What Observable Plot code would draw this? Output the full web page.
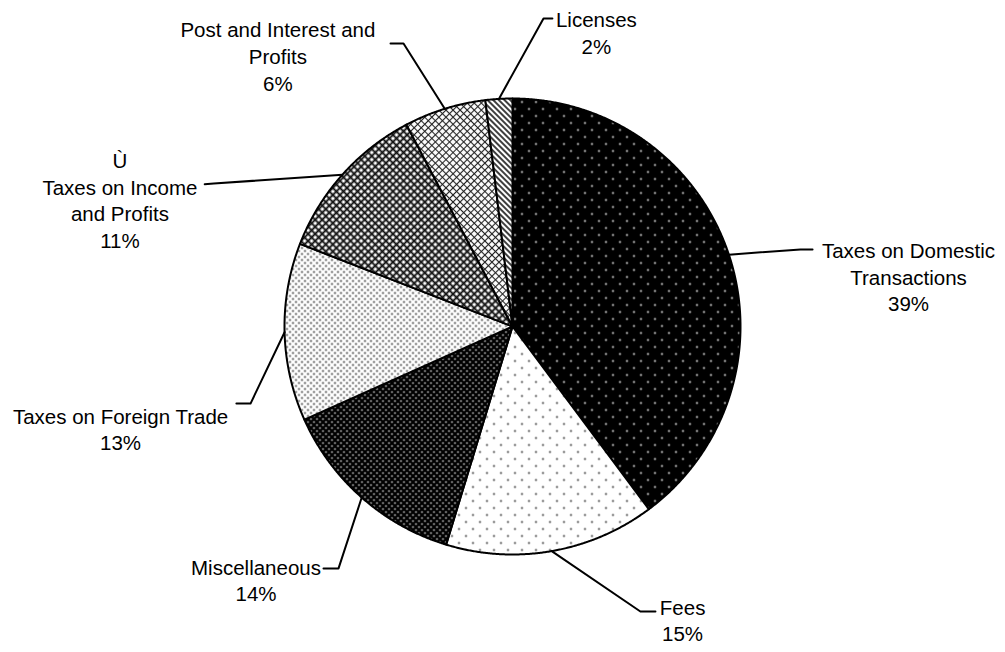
<!DOCTYPE html>
<html><head><meta charset="utf-8">
<script src="https://cdn.jsdelivr.net/npm/d3@7"></script>
<script src="https://cdn.jsdelivr.net/npm/@observablehq/plot@0.6"></script>
<style>html,body{margin:0;padding:0;background:#fff;} svg{display:block}</style>
</head><body><div id="chart"></div>
<script>
// ---- data ----
const categories = ["Taxes on Domestic Transactions", "Fees", "Miscellaneous", "Taxes on Foreign Trade", "Taxes on Income and Profits", "Post and Interest and Profits", "Licenses"];
const shares = [39.8, 14.9, 13.6, 12.6, 11.4, 5.8, 1.9];
const pctLabels = ["39%", "15%", "14%", "13%", "11%", "6%", "2%"];
const labelLines = ["Taxes on Domestic\nTransactions", "Fees", "Miscellaneous", "Taxes on Foreign Trade", "Ù\nTaxes on Income\nand Profits", "Post and Interest and\nProfits", "Licenses"];
const patternIds = ["pDom", "pFees", "pMisc", "pFor", "pInc", "pPost", "pLic"];
// label layout (in pie-radius units, y up)
const labelX = [1.737, 0.746, -1.125, -1.719, -1.722, -1.029, 0.368];
const labelY = [0.221, -1.285, -1.110, -0.447, 0.557, 1.189, 1.292];
const elbowX = [1.263, 0.561, -0.763, -1.149, -1.310, -0.478, 0.136];
const elbowY = [0.338, -1.250, -1.061, -0.338, 0.627, 1.241, 1.351];
const endX = [1.316, 0.627, -0.829, -1.211, -1.350, -0.535, 0.175];
const endY = [0.338, -1.250, -1.061, -0.338, 0.624, 1.241, 1.351];

// ---- geometry from data ----
const arcs = d3.pie().sort(null).value(d => d)(shares);
const slicePts = [];
arcs.forEach((a, i) => {
  slicePts.push({k: i, x: 0, y: 0});
  const n = Math.max(2, Math.ceil((a.endAngle - a.startAngle) / 0.005));
  for (let j = 0; j <= n; j++) {
    const t = a.startAngle + (a.endAngle - a.startAngle) * j / n;
    slicePts.push({k: i, x: Math.sin(t), y: Math.cos(t)});
  }
});
const leaderPts = [];
arcs.forEach((a, i) => {
  const m = (a.startAngle + a.endAngle) / 2;
  leaderPts.push({k: i, x: Math.sin(m), y: Math.cos(m)});
  leaderPts.push({k: i, x: elbowX[i], y: elbowY[i]});
  leaderPts.push({k: i, x: endX[i], y: endY[i]});
});
const labels = categories.map((c, i) => ({x: labelX[i], y: labelY[i], text: labelLines[i] + "\n" + pctLabels[i]}));

const svg = Plot.plot({
  width: 1005,
  height: 652,
  margin: 0,
  x: {domain: [-1, 1], range: [284, 740], axis: null},
  y: {domain: [-1, 1], range: [554, 98], axis: null},
  color: {type: "identity"},
  style: {fontFamily: "'Liberation Sans', Arial, sans-serif", background: "#fff", color: "#000"},
  marks: [
    Plot.line(slicePts, {x: "x", y: "y", z: "k", fill: d => `url(#${patternIds[d.k]})`, stroke: "#000", strokeWidth: 2, strokeLinejoin: "round", curve: "linear-closed"}),
    Plot.line(leaderPts, {x: "x", y: "y", z: "k", stroke: "#000", strokeWidth: 2, curve: "linear"}),
    Plot.text(labels, {x: "x", y: "y", text: "text", fontSize: 20.5, lineHeight: 1.3, textAnchor: "middle", lineAnchor: "middle", fill: "#000"})
  ]
});

// pattern fills
const defs = d3.select(svg).insert("defs", ":first-child");
function dots(id, size, bg, fg, r, pts) {
  const p = defs.append("pattern").attr("id", id).attr("patternUnits", "userSpaceOnUse").attr("width", size).attr("height", size);
  p.append("rect").attr("width", size).attr("height", size).attr("fill", bg);
  pts.forEach(([cx, cy]) => p.append("circle").attr("cx", cx).attr("cy", cy).attr("r", r).attr("fill", fg));
}
dots("pDom", 14, "#000", "#fff", 0.9, [[3.5, 3.5], [10.5, 10.5]]);
dots("pFees", 14, "#fff", "#222", 0.9, [[3.5, 3.5], [10.5, 10.5]]);
dots("pMisc", 6, "#000", "#fff", 0.85, [[1.5, 1.5], [4.5, 4.5]]);
dots("pFor", 6, "#fff", "#333", 0.95, [[1.5, 1.5], [4.5, 4.5]]);
function hatch(id, size, sw, bg, fg, both) {
  const p = defs.append("pattern").attr("id", id).attr("patternUnits", "userSpaceOnUse").attr("width", size).attr("height", size).attr("patternTransform", "rotate(45)");
  p.append("rect").attr("width", size).attr("height", size).attr("fill", bg);
  p.append("rect").attr("x", 0).attr("y", (size - sw) / 2).attr("width", size).attr("height", sw).attr("fill", fg);
  if (both) p.append("rect").attr("y", 0).attr("x", (size - sw) / 2).attr("height", size).attr("width", sw).attr("fill", fg);
}
hatch("pInc", 5, 1.9, "#fff", "#111", true);
hatch("pPost", 5, 1.1, "#fff", "#222", true);
hatch("pLic", 4, 1.5, "#fff", "#000", false);

document.getElementById("chart").appendChild(svg);
</script>
</body></html>
